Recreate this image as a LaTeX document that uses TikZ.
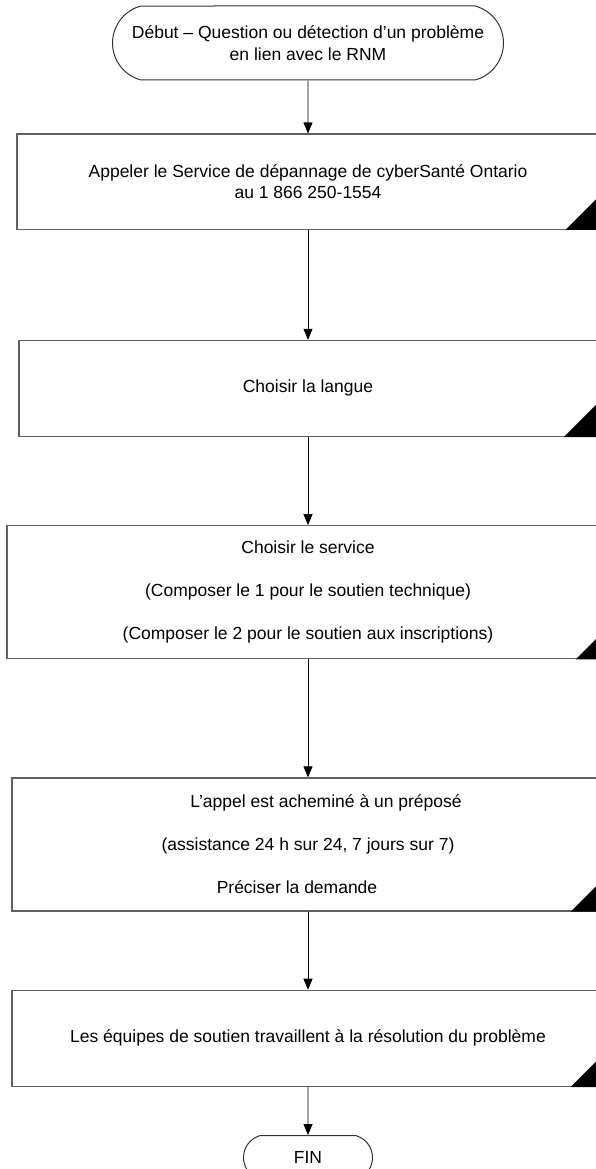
\documentclass[tikz,border=0pt]{standalone}
\usepackage{fontspec}
\setmainfont{Liberation Sans}
\usetikzlibrary{arrows.meta,positioning,shapes.misc}
\definecolor{edge}{HTML}{606060}

\begin{document}
\begin{tikzpicture}[x=1pt, y=-1pt, font=\fontsize{17.5}{21.5}\selectfont, box/.style={draw=edge, line width=1.3pt, align=center, inner sep=0pt, minimum height=95pt}, term/.style={draw=black!80, line width=1pt, rounded rectangle, rounded rectangle arc length=150, align=center, inner sep=0pt}, arr/.style={-{Triangle[length=11pt,width=9pt]}, line width=0.8pt}]
\useasboundingbox (0,0) rectangle (595,1169);
\node[term, minimum width=391pt, minimum height=74pt] (start) at (308,43) {Début – Question ou détection d’un problème\\en lien avec le RNM};
\node[box, below=53pt of start, minimum width=582pt] (appel) {Appeler le Service de dépannage de cyberSanté Ontario\\au 1 866 250-1554};
\node[box, below=110pt of appel, minimum width=578pt, minimum height=96pt] (langue) {Choisir la langue};
\node[box, below=88pt of langue, minimum width=602pt, minimum height=133pt] (service) {Choisir le service\\[21.5pt](Composer le 1 pour le soutien technique)\\[21.5pt](Composer le 2 pour le soutien aux inscriptions)};
\node[box, below=118pt of service, minimum width=592pt, minimum height=133pt] (prepose) {\hspace*{36pt}L’appel est acheminé à un préposé\\[21.5pt](assistance 24 h sur 24, 7 jours sur 7)\\[21.5pt]Préciser la demande\hspace*{22pt}};
\node[box, below=78pt of prepose, minimum width=592pt, minimum height=96pt] (equipes) {Les équipes de soutien travaillent à la résolution du problème};
\node[term, below=48pt of equipes, minimum width=129pt, minimum height=44pt] (fin) {FIN};
\fill (appel.south east) -- ++(-34,0) -- ++(34,-34) -- cycle; \fill (langue.south east) -- ++(-34,0) -- ++(34,-34) -- cycle; \fill (service.south east) -- ++(-34,0) -- ++(34,-34) -- cycle; \fill (prepose.south east) -- ++(-34,0) -- ++(34,-34) -- cycle; \fill (equipes.south east) -- ++(-34,0) -- ++(34,-34) -- cycle;
\draw[arr] (start) -- (appel); \draw[arr] (appel) -- (langue); \draw[arr] (langue) -- (service); \draw[arr] (service) -- (prepose); \draw[arr] (prepose) -- (equipes); \draw[arr] (equipes) -- (fin);
\end{tikzpicture}
\end{document}
